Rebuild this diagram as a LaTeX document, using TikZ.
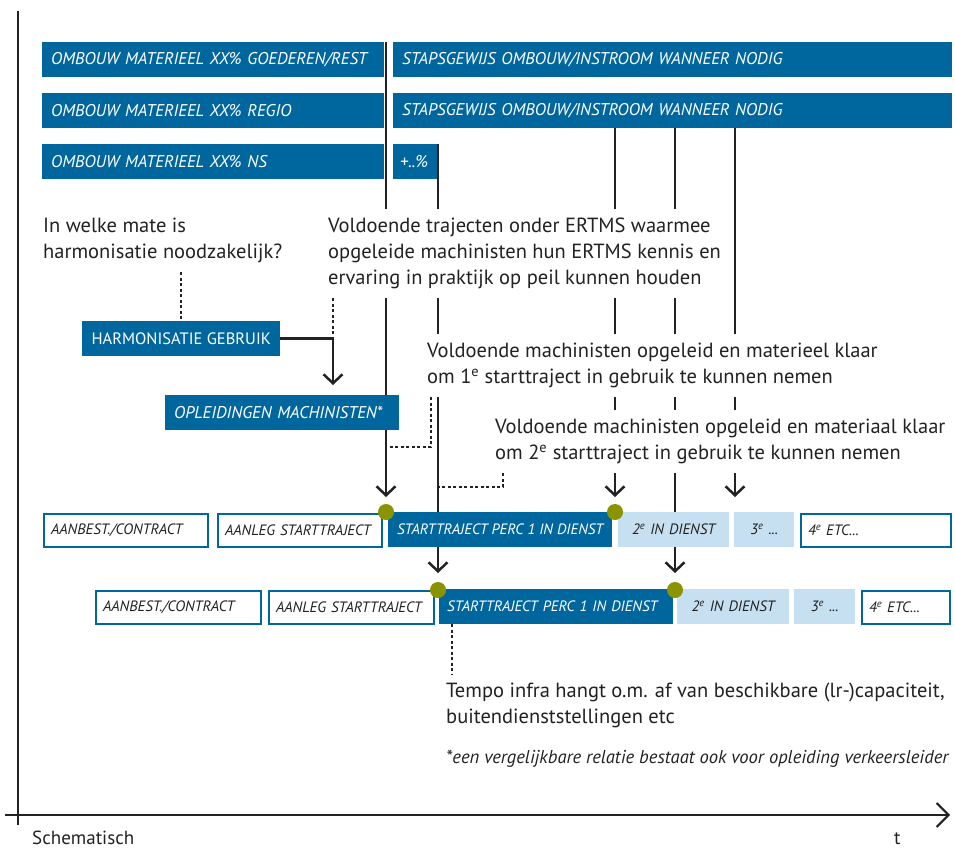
\documentclass[tikz,border=0pt]{standalone}
\usepackage{fontspec}
\setmainfont{PT Sans}
\usetikzlibrary{arrows.meta}

\definecolor{rijkblauw}{RGB}{0,103,158}
\definecolor{lichtblauw}{RGB}{198,224,241}
\definecolor{olijf}{RGB}{138,148,0}
\definecolor{inkt}{RGB}{34,34,34}

\newcommand{\tekstfont}{\fontsize{20.5}{26}\selectfont}
\newcommand{\balkfont}{\fontsize{17}{19}\selectfont\itshape}
\newcommand{\vakfont}{\fontsize{15}{17}\selectfont\itshape}

\begin{document}
\begin{tikzpicture}[x=1pt, y=-1pt,
    balk/.style={fill=rijkblauw, text=white, font=\balkfont, minimum height=35pt, inner xsep=9pt, inner ysep=0pt, anchor=north west, align=left},
    vak/.style={draw=rijkblauw, line width=2pt, fill=white, text=inkt, font=\vakfont, minimum height=33pt, inner xsep=7pt, inner ysep=0pt, anchor=north west, align=left},
    vakdonker/.style={fill=rijkblauw, text=white, font=\vakfont, minimum height=35pt, inner xsep=8pt, inner ysep=0pt, anchor=north west, align=left},
    vaklicht/.style={fill=lichtblauw, text=inkt, font=\vakfont, minimum height=35pt, inner xsep=4pt, inner ysep=0pt, anchor=north west, align=center},
    tekst/.style={fill=white, text=inkt, font=\tekstfont, anchor=north west, align=left, inner xsep=3pt, inner ysep=9pt},
    lijn/.style={draw=inkt, line width=2.5pt},
    pijl/.style={lijn, -{Straight Barb[length=9pt, width=19pt]}},
    stip/.style={draw=inkt, line width=2.5pt, dash pattern=on 3pt off 2.5pt},
    dot/.style={circle, fill=olijf, minimum size=16pt, inner sep=0pt}
]
\useasboundingbox (0,0) rectangle (955,848);

% assen
\draw[line width=2pt, draw=inkt] (18,11) -- (18,825);
\draw[line width=2pt, draw=inkt, -{Straight Barb[length=12pt, width=24pt]}] (5,815) -- (950,815);
\node[anchor=base west, text=inkt, font=\fontsize{19}{21}\selectfont, inner sep=0pt] (schema) at (32,844) {Schematisch};
\node[anchor=base west, text=inkt, font=\fontsize{19}{21}\selectfont, inner sep=0pt] (tijd) at (894,844) {t};

% materieel balken
\node[balk, text width=324pt] (b1l) at (42,42) {OMBOUW MATERIEEL XX\% GOEDEREN/REST};
\node[balk, text width=541pt] (b1r) at (393,42) {STAPSGEWIJS OMBOUW/INSTROOM WANNEER NODIG};
\node[balk, text width=324pt] (b2l) at (42,93) {OMBOUW MATERIEEL XX\% REGIO};
\node[balk, text width=541pt] (b2r) at (393,93) {STAPSGEWIJS OMBOUW/INSTROOM WANNEER NODIG};
\node[balk, text width=324pt] (b3l) at (42,144) {OMBOUW MATERIEEL XX\% NS};
\node[balk, inner xsep=7pt, text width=30pt] (b3r) at (393,144) {+..\%};

% mijlpalen
\coordinate (p1) at (386,512);
\coordinate (p2) at (615,512);
\coordinate (p3) at (438,590);
\coordinate (p4) at (675,590);
\coordinate (p5) at (735,512);

% doorgaande lijnen
\draw[pijl, shorten >=15pt] (p1 |- b1l.north) -- (p1);
\draw[pijl, shorten >=17pt] (p3 |- b3r.north) -- (p3);
\draw[pijl, shorten >=15pt] (p2 |- b2r.south) -- (p2);
\draw[pijl, shorten >=17pt] (p4 |- b2r.south) -- (p4);
\draw[pijl, shorten >=15pt] (p5 |- b2r.south) -- (p5);

% teksten
\node[tekst, fill=none] (vraag) at (40,209) {In welke mate is\\harmonisatie noodzakelijk?};
\node[tekst] (t1) at (325,209) {Voldoende trajecten onder ERTMS waarmee\\opgeleide machinisten hun ERTMS kennis en\\ervaring in praktijk op peil kunnen houden};
\node[tekst] (t2) at (424,334) {Voldoende machinisten opgeleid en materieel klaar\\om 1\textsuperscript{e} starttraject in gebruik te kunnen nemen};
\node[tekst] (t3) at (492,410) {Voldoende machinisten opgeleid en materiaal klaar\\om 2\textsuperscript{e} starttraject in gebruik te kunnen nemen};

% harmonisatie en opleiding
\node[balk, font=\fontsize{16.5}{19}\selectfont, minimum width=198pt, inner xsep=0pt] (harm) at (82,321) {HARMONISATIE GEBRUIK};
\node[balk, text width=216pt] (opl) at (165,395) {OPLEIDINGEN MACHINISTEN*};
\coordinate (hk) at (333,385);
\coordinate (s1) at (431,447);
\coordinate (s2) at (503,487);
\coordinate (s3) at (452,678);

\draw[stip] (harm.north |- vraag.south) -- (harm.north);
\draw[pijl] (harm.east) -| (hk);
\draw[stip] (hk |- t1.south) -- (hk |- harm.east);
\draw[stip] (s1 |- t2.south) -- (s1) -- (s1 -| p1);
\draw[stip] (s2 |- t3.south) -- (s2) -- (s2 -| p3);

% eerste rij
\node[vak, text width=150pt] (r1a) at (43,513) {AANBEST./CONTRACT};
\node[vak, text width=150pt] (r1b) at (217,513) {AANLEG STARTTRAJECT};
\node[vakdonker, minimum width=224pt, inner xsep=0pt] (r1c) at (388,512) {STARTTRAJECT PERC 1 IN DIENST};
\node[vaklicht, text width=103pt] (r1d) at (618,512) {2\textsuperscript{e} IN DIENST};
\node[vaklicht, text width=52pt] (r1e) at (734,512) {3\textsuperscript{e} ...};
\node[vak, text width=136pt] (r1f) at (800,513) {4\textsuperscript{e} ETC...};

% tweede rij
\node[vak, text width=151pt] (r2a) at (95,590) {AANBEST./CONTRACT};
\node[vak, text width=151pt] (r2b) at (268,590) {AANLEG STARTTRAJECT};
\node[vakdonker, text width=218pt] (r2c) at (439,589) {STARTTRAJECT PERC 1 IN DIENST};
\node[vaklicht, text width=104pt] (r2d) at (677,589) {2\textsuperscript{e} IN DIENST};
\node[vaklicht, text width=53pt] (r2e) at (794,589) {3\textsuperscript{e} ...};
\node[vak, text width=74pt] (r2f) at (861,590) {4\textsuperscript{e} ETC...};

\node[dot] (g1) at (p1) {};
\node[dot] (g2) at (p2) {};
\node[dot] (g3) at (p3) {};
\node[dot] (g4) at (p4) {};

% infra
\node[tekst] (t4) at (443,674) {Tempo infra hangt o.m. af van beschikbare (lr-)capaciteit,\\buitendienststellingen etc};
\draw[stip] (s3 |- r2c.south) -- (s3 |- t4.north);
\node[anchor=base west, text=inkt, font=\fontsize{18.6}{21}\selectfont\itshape, inner sep=0pt] (voetnoot) at (446,763) {*een vergelijkbare relatie bestaat ook voor opleiding verkeersleider};
\end{tikzpicture}
\end{document}
